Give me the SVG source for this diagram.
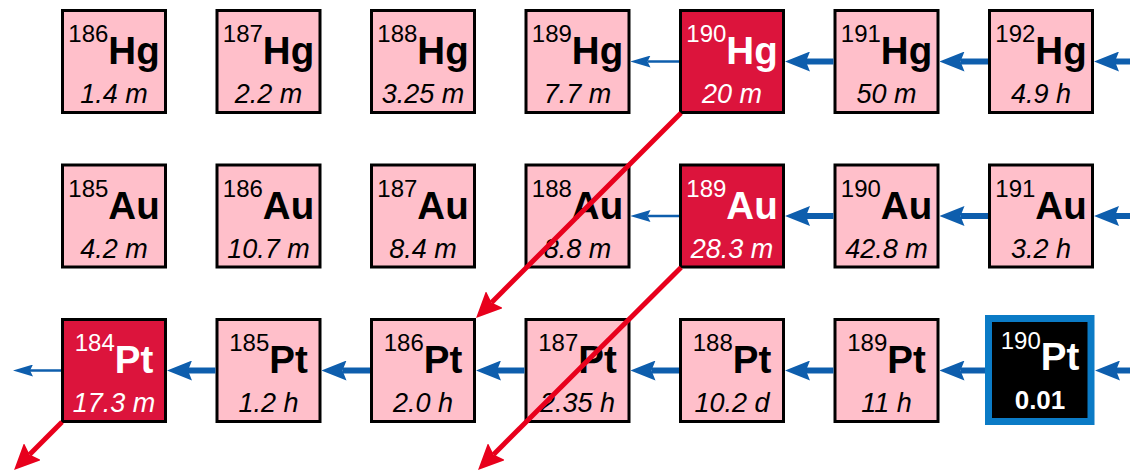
<svg xmlns="http://www.w3.org/2000/svg" width="1130" height="471" viewBox="0 0 1130 471">
<defs>
<style>
.box{fill:#FFBFCA;stroke:#000;stroke-width:3}
.red{fill:#DC143C;stroke:#000;stroke-width:3}
.stable{fill:#000;stroke:#0B7BC6;stroke-width:7}
.sym{font-family:"Liberation Sans",Arial,sans-serif;font-size:38.5px;font-weight:bold;text-anchor:middle;fill:#000}
.sup{font-size:24px;font-weight:normal}
.hl{font-family:"Liberation Sans",Arial,sans-serif;font-size:27px;font-style:italic;text-anchor:middle;fill:#000}
.w{fill:#fff}
.hlb{font-family:"Liberation Sans",Arial,sans-serif;font-size:26px;font-weight:bold;text-anchor:middle;fill:#fff}
.thick{stroke:#0E5EAD;stroke-width:6;fill:none;marker-end:url(#bh)}
.thin{stroke:#0E5EAD;stroke-width:2.5;fill:none;marker-end:url(#bt)}
.rd{stroke:#E8001C;stroke-width:5;fill:none;marker-end:url(#rh)}
</style>
<marker id="bh" markerUnits="userSpaceOnUse" viewBox="0 0 25 20" markerWidth="25" markerHeight="20" refX="4" refY="10" orient="auto"><path d="M0,0 L25,10 L0,20 L4,10 z" fill="#0E5EAD"/></marker>
<marker id="bt" markerUnits="userSpaceOnUse" viewBox="0 0 20 12" markerWidth="20" markerHeight="12" refX="3" refY="6" orient="auto"><path d="M0,0 L20,6 L0,12 L3,6 z" fill="#0E5EAD"/></marker>
<marker id="rh" markerUnits="userSpaceOnUse" viewBox="0 0 26 24" markerWidth="26" markerHeight="24" refX="4" refY="12" orient="auto"><path d="M0,0 L26,12 L0,24 L4,12 z" fill="#E8001C"/></marker>
</defs>

<!-- Hg row -->
<g id="hg186"><rect class="box" x="62.5" y="10.5" width="103" height="102"/><text class="sym" x="114" y="64"><tspan class="sup" dy="-22">186</tspan><tspan dy="22">Hg</tspan></text><text class="hl" x="114" y="103">1.4 m</text></g>
<g id="hg187"><rect class="box" x="217" y="10.5" width="103" height="102"/><text class="sym" x="268.5" y="64"><tspan class="sup" dy="-22">187</tspan><tspan dy="22">Hg</tspan></text><text class="hl" x="268.5" y="103">2.2 m</text></g>
<g id="hg188"><rect class="box" x="371.5" y="10.5" width="103" height="102"/><text class="sym" x="423" y="64"><tspan class="sup" dy="-22">188</tspan><tspan dy="22">Hg</tspan></text><text class="hl" x="423" y="103">3.25 m</text></g>
<g id="hg189"><rect class="box" x="526" y="10.5" width="103" height="102"/><text class="sym" x="577.5" y="64"><tspan class="sup" dy="-22">189</tspan><tspan dy="22">Hg</tspan></text><text class="hl" x="577.5" y="103">7.7 m</text></g>
<g id="hg190"><rect class="red" x="680.5" y="10.5" width="103" height="102"/><text class="sym w" x="732" y="64"><tspan class="sup" dy="-22">190</tspan><tspan dy="22">Hg</tspan></text><text class="hl w" x="732" y="103">20 m</text></g>
<g id="hg191"><rect class="box" x="835" y="10.5" width="103" height="102"/><text class="sym" x="886.5" y="64"><tspan class="sup" dy="-22">191</tspan><tspan dy="22">Hg</tspan></text><text class="hl" x="886.5" y="103">50 m</text></g>
<g id="hg192"><rect class="box" x="989.5" y="10.5" width="103" height="102"/><text class="sym" x="1041" y="64"><tspan class="sup" dy="-22">192</tspan><tspan dy="22">Hg</tspan></text><text class="hl" x="1041" y="103">4.9 h</text></g>

<!-- Au row -->
<g id="au185"><rect class="box" x="62.5" y="165" width="103" height="102"/><text class="sym" x="114" y="218.5"><tspan class="sup" dy="-22">185</tspan><tspan dy="22">Au</tspan></text><text class="hl" x="114" y="257.5">4.2 m</text></g>
<g id="au186"><rect class="box" x="217" y="165" width="103" height="102"/><text class="sym" x="268.5" y="218.5"><tspan class="sup" dy="-22">186</tspan><tspan dy="22">Au</tspan></text><text class="hl" x="268.5" y="257.5">10.7 m</text></g>
<g id="au187"><rect class="box" x="371.5" y="165" width="103" height="102"/><text class="sym" x="423" y="218.5"><tspan class="sup" dy="-22">187</tspan><tspan dy="22">Au</tspan></text><text class="hl" x="423" y="257.5">8.4 m</text></g>
<g id="au188"><rect class="box" x="526" y="165" width="103" height="102"/><text class="sym" x="577.5" y="218.5"><tspan class="sup" dy="-22">188</tspan><tspan dy="22">Au</tspan></text><text class="hl" x="577.5" y="257.5">8.8 m</text></g>
<g id="au189"><rect class="red" x="680.5" y="165" width="103" height="102"/><text class="sym w" x="732" y="218.5"><tspan class="sup" dy="-22">189</tspan><tspan dy="22">Au</tspan></text><text class="hl w" x="732" y="257.5">28.3 m</text></g>
<g id="au190"><rect class="box" x="835" y="165" width="103" height="102"/><text class="sym" x="886.5" y="218.5"><tspan class="sup" dy="-22">190</tspan><tspan dy="22">Au</tspan></text><text class="hl" x="886.5" y="257.5">42.8 m</text></g>
<g id="au191"><rect class="box" x="989.5" y="165" width="103" height="102"/><text class="sym" x="1041" y="218.5"><tspan class="sup" dy="-22">191</tspan><tspan dy="22">Au</tspan></text><text class="hl" x="1041" y="257.5">3.2 h</text></g>

<!-- Pt row -->
<g id="pt184"><rect class="red" x="62.5" y="319.5" width="103" height="102"/><text class="sym w" x="114" y="373"><tspan class="sup" dy="-22">184</tspan><tspan dy="22">Pt</tspan></text><text class="hl w" x="114" y="412">17.3 m</text></g>
<g id="pt185"><rect class="box" x="217" y="319.5" width="103" height="102"/><text class="sym" x="268.5" y="373"><tspan class="sup" dy="-22">185</tspan><tspan dy="22">Pt</tspan></text><text class="hl" x="268.5" y="412">1.2 h</text></g>
<g id="pt186"><rect class="box" x="371.5" y="319.5" width="103" height="102"/><text class="sym" x="423" y="373"><tspan class="sup" dy="-22">186</tspan><tspan dy="22">Pt</tspan></text><text class="hl" x="423" y="412">2.0 h</text></g>
<g id="pt187"><rect class="box" x="526" y="319.5" width="103" height="102"/><text class="sym" x="577.5" y="373"><tspan class="sup" dy="-22">187</tspan><tspan dy="22">Pt</tspan></text><text class="hl" x="577.5" y="412">2.35 h</text></g>
<g id="pt188"><rect class="box" x="680.5" y="319.5" width="103" height="102"/><text class="sym" x="732" y="373"><tspan class="sup" dy="-22">188</tspan><tspan dy="22">Pt</tspan></text><text class="hl" x="732" y="412">10.2 d</text></g>
<g id="pt189"><rect class="box" x="835" y="319.5" width="103" height="102"/><text class="sym" x="886.5" y="373"><tspan class="sup" dy="-22">189</tspan><tspan dy="22">Pt</tspan></text><text class="hl" x="886.5" y="412">11 h</text></g>
<g id="pt190"><rect class="stable" x="988.5" y="318.5" width="102.5" height="103"/><text class="sym w" x="1040" y="370"><tspan class="sup" dy="-21">190</tspan><tspan dy="21">Pt</tspan></text><text class="hlb" x="1040" y="409">0.01</text></g>

<g id="connectors">
<path class="thin" d="M679,61.5 L647.5,61.5"/>
<path class="thick" d="M833.5,61.5 L806,61.5"/>
<path class="thick" d="M988,61.5 L960.5,61.5"/>
<path class="thick" d="M1130,61.5 L1115,61.5"/>
<path class="thin" d="M679,216 L647.5,216"/>
<path class="thick" d="M833.5,216 L806,216"/>
<path class="thick" d="M988,216 L960.5,216"/>
<path class="thick" d="M1130,216 L1115,216"/>
<path class="thin" d="M61,370.5 L30,370.5"/>
<path class="thick" d="M215.5,370.5 L188,370.5"/>
<path class="thick" d="M370,370.5 L342.5,370.5"/>
<path class="thick" d="M524.5,370.5 L497,370.5"/>
<path class="thick" d="M679,370.5 L651.5,370.5"/>
<path class="thick" d="M833.5,370.5 L806,370.5"/>
<path class="thick" d="M985,370.5 L960.5,370.5"/>
<path class="thick" d="M1130,370.5 L1116,370.5"/>
<path class="rd" d="M681,113 L491.6,302.4"/>
<path class="rd" d="M681,267.5 L493.6,454.4"/>
<path class="rd" d="M62,422 L29.6,454.4"/>
</g>
</svg>
